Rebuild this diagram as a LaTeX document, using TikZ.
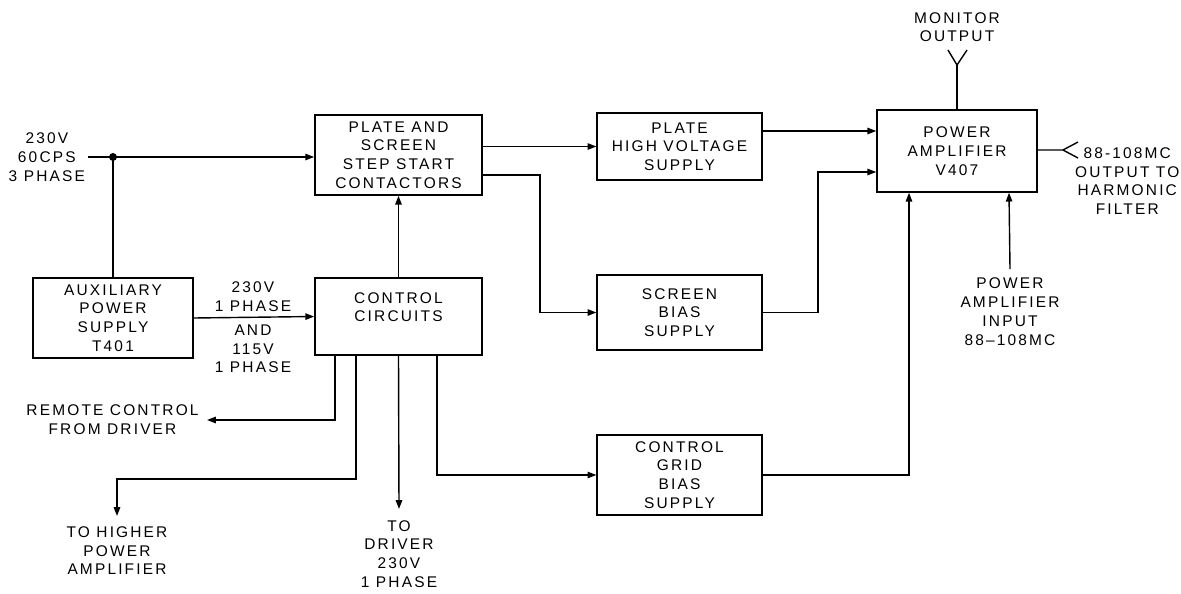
\documentclass[tikz,border=0pt]{standalone}
\usepackage{fontspec}
\setmainfont{Liberation Sans}[LetterSpace=14]
\usepackage{tikz}
\usetikzlibrary{calc,arrows.meta,positioning}
\tikzset{
  blk/.style={draw,line width=1pt,align=center,inner sep=0pt,font=\fontsize{11}{13.3}\selectfont},
  lbl/.style={align=center,inner sep=2pt,font=\fontsize{11}{13.3}\selectfont},
  ln/.style={line width=1pt},
  ar/.style={line width=1pt,-{Triangle[length=2.2mm,width=1.6mm]}}
}
\begin{document}
\begin{tikzpicture}[x=0.025cm,y=-0.025cm]
\useasboundingbox (0,0) rectangle (1181,593);
% blocks
\node[blk,minimum width=4.18cm,minimum height=2.0cm] (pss) at (398.5,155) {PLATE AND\\SCREEN\\STEP START\\CONTACTORS};
\node[blk,minimum width=4.0cm,minimum height=2.0cm] (aux) at (113,318) {AUXILIARY\\POWER\\SUPPLY\\T401};
\node[blk,minimum width=4.18cm,minimum height=1.93cm] (ctl) at (398.5,316.5) {CONTROL\\CIRCUITS\\\mbox{}};
\node[blk,minimum width=4.12cm,minimum height=1.68cm] (phv) at (679.5,146.5) {PLATE\\HIGH VOLTAGE\\SUPPLY};
\node[blk,minimum width=4.12cm,minimum height=1.88cm] (sbs) at (679.5,312.5) {SCREEN\\BIAS\\SUPPLY};
\node[blk,minimum width=4.12cm,minimum height=2.0cm] (cgb) at (679.5,475) {CONTROL\\GRID\\BIAS\\SUPPLY};
\node[blk,minimum width=4.0cm,minimum height=2.05cm] (pa) at (957,151) {POWER\\AMPLIFIER\\V407};
% outside labels
\node[lbl,anchor=east] (ac) at (88,157) {230V\\60CPS\\3 PHASE};
\node[lbl] (ph1) at (253,297) {230V\\1 PHASE};
\node[lbl] (ph2) at (253,349) {AND\\115V\\1 PHASE};
\node[lbl,anchor=east,outer sep=4pt] (rem) at (207,420) {REMOTE CONTROL\\FROM DRIVER};
\node[lbl,anchor=north,outer sep=5.5pt] (thp) at (117,516) {TO HIGHER\\POWER\\AMPLIFIER};
\node[lbl,anchor=north,outer sep=6pt] (drv) at (399,509) {TO\\DRIVER\\230V\\1 PHASE};
\node[lbl,anchor=south] (pin) at (1010,269) {};
\node[lbl,anchor=north] (pint) at (1010,275) {POWER\\AMPLIFIER\\INPUT\\88--108MC};
\node[lbl,anchor=south] (mon) at (957,45) {MONITOR\\OUTPUT};
\node[lbl,anchor=west] (out) at (1072,181) {88-108MC\\OUTPUT TO\\HARMONIC\\FILTER};
\coordinate (j1) at (113,157);
\coordinate (k1) at (540,175);
\coordinate (k2) at (818,312.5);
\coordinate (m1) at (957,65);
\coordinate (o1) at (1063,150);
% connectors
\draw[ln] (ac.east) -- (j1);
\draw[ar] (j1) -- (pss.west |- j1);
\fill (j1) circle (4);
\draw[ln] (j1) -- (aux.north -| j1);
\draw[ar] (aux.east) -- (ctl.west);
\draw[ar] (ctl.north) -- (pss.south);
\draw[ar] (pss.east |- phv.west) -- (phv.west);
\draw[ar] (pss.east |- k1) -- (k1) |- (sbs.west);
\draw[ar] ($(phv.east)+(0,-15.5)$) -- ($(pa.west)+(0,-20)$);
\draw[ar] (sbs.east) -- (k2) |- ($(pa.west)+(0,21)$);
\draw[ar] (cgb.east) -| ($(pa.south)+(-48,0)$);
\draw[ar] (pin.south) -- ($(pa.south)+(52,0)$);
\draw[ln] (pa.north) -- (m1);
\draw[ln] (948,50) -- (m1) -- (967,50);
\draw[ln] (pa.east |- o1) -- (o1) -- (1078,142) (o1) -- (1078,158);
\draw[ar] ($(ctl.south)+(-63.5,0)$) |- (rem.east);
\draw[ar] ($(ctl.south)+(-42.5,0)$) -- ++(0,123) -| (thp.north);
\draw[ar] (ctl.south) -- (drv.north);
\draw[ar] ($(ctl.south)+(38.5,0)$) |- (cgb.west);
\end{tikzpicture}
\end{document}
